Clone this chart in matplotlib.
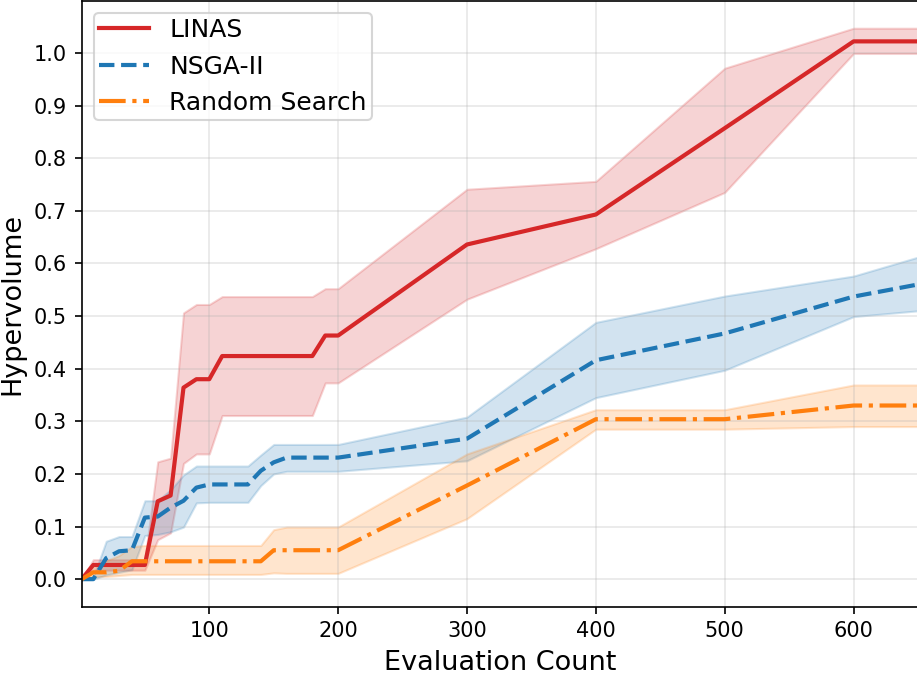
import matplotlib
matplotlib.use("Agg")
import matplotlib.pyplot as plt
import numpy as np

evals = [1, 10, 20, 30, 40, 50, 60, 70, 80, 90, 100, 110, 120, 130, 140, 150,
         160, 170, 180, 190, 200, 300, 400, 500, 600, 650]

linas_mean = [0.0, 0.027, 0.027, 0.027, 0.027, 0.027, 0.148, 0.159, 0.364, 0.380,
              0.380, 0.424, 0.424, 0.424, 0.424, 0.424, 0.424, 0.424, 0.424, 0.463,
              0.463, 0.636, 0.693, 0.857, 1.022, 1.022]
linas_upper = [0.0, 0.037, 0.037, 0.037, 0.037, 0.037, 0.223, 0.230, 0.506, 0.522,
               0.522, 0.537, 0.537, 0.537, 0.537, 0.537, 0.537, 0.537, 0.537, 0.552,
               0.552, 0.741, 0.756, 0.971, 1.047, 1.047]
linas_lower = [0.0, 0.017, 0.017, 0.017, 0.017, 0.017, 0.075, 0.088, 0.220, 0.238,
               0.238, 0.311, 0.311, 0.311, 0.311, 0.311, 0.311, 0.311, 0.311, 0.373,
               0.373, 0.532, 0.628, 0.735, 0.999, 0.999]

nsga_mean = [0.0, 0.0, 0.040, 0.053, 0.055, 0.117, 0.119, 0.136, 0.149, 0.174,
             0.180, 0.180, 0.180, 0.180, 0.206, 0.222, 0.231, 0.231, 0.231, 0.231,
             0.231, 0.267, 0.416, 0.467, 0.537, 0.560]
nsga_upper = [0.0, 0.004, 0.072, 0.081, 0.081, 0.149, 0.149, 0.170, 0.198, 0.215,
              0.215, 0.215, 0.215, 0.215, 0.236, 0.256, 0.256, 0.256, 0.256, 0.256,
              0.256, 0.308, 0.488, 0.538, 0.576, 0.612]
nsga_lower = [0.0, 0.0, 0.008, 0.013, 0.018, 0.083, 0.085, 0.090, 0.099, 0.145,
              0.146, 0.146, 0.146, 0.146, 0.178, 0.200, 0.205, 0.205, 0.205, 0.205,
              0.205, 0.225, 0.345, 0.397, 0.499, 0.510]

rs_mean = [0.0, 0.013, 0.013, 0.016, 0.034, 0.034, 0.034, 0.034, 0.034, 0.034,
           0.034, 0.034, 0.034, 0.034, 0.034, 0.055, 0.055, 0.055, 0.055, 0.055,
           0.055, 0.178, 0.304, 0.304, 0.330, 0.330]
rs_upper = [0.0, 0.027, 0.035, 0.045, 0.062, 0.064, 0.064, 0.064, 0.064, 0.064,
            0.064, 0.064, 0.064, 0.064, 0.064, 0.094, 0.099, 0.099, 0.099, 0.099,
            0.099, 0.238, 0.322, 0.322, 0.369, 0.369]
rs_lower = [0.0, 0.005, 0.005, 0.007, 0.009, 0.009, 0.009, 0.009, 0.009, 0.009,
            0.009, 0.009, 0.009, 0.009, 0.009, 0.012, 0.011, 0.011, 0.011, 0.011,
            0.011, 0.115, 0.285, 0.285, 0.290, 0.290]

series = [
    ("LINAS", linas_mean, linas_lower, linas_upper, "#d62728", "-"),
    ("NSGA-II", nsga_mean, nsga_lower, nsga_upper, "#1f77b4", "--"),
    ("Random Search", rs_mean, rs_lower, rs_upper, "#ff7f0e", "-."),
]

fig = plt.figure(figsize=(917 / 150, 676 / 150), dpi=150)
ax = fig.add_axes([0.0891, 0.1025, 0.912, 0.8965])

for name, m, lo, hi, c, ls in series:
    ax.fill_between(evals, lo, hi, color=c, alpha=0.2)
    ax.plot(evals, m, color=c, linestyle=ls, linewidth=2, label=name)

ax.set_xlim(evals[0], evals[-1])
ax.set_xticks([100, 200, 300, 400, 500, 600])
ax.set_yticks(np.arange(0, 1.01, 0.1))
ax.grid(True, alpha=0.3)
ax.set_xlabel("Evaluation Count", fontsize=13)
ax.set_ylabel("Hypervolume", fontsize=13)
ax.tick_params(labelsize=10)
ax.spines["right"].set_visible(False)
ax.legend(loc="upper left", fontsize=12, borderpad=0.2)

fig.savefig("out.png", dpi=150)
